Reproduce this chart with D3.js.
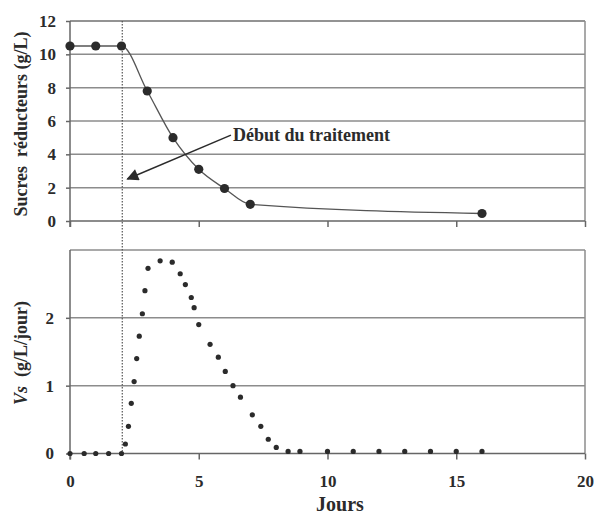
<!DOCTYPE html>
<html>
<head>
<meta charset="utf-8">
<script src="https://cdn.jsdelivr.net/npm/d3@7"></script>
<style>
  body { margin: 0; background: #fff; }
  text { font-family: "Liberation Serif", "Times New Roman", serif; font-weight: bold; fill: #2b2b2b; }
</style>
</head>
<body>
<script>
// sucres reducteurs (top panel)
var sugarDays = [0, 1, 2, 3, 4, 5, 6, 7, 16];
var sugarValues = [10.5, 10.5, 10.5, 7.8, 5.0, 3.1, 1.95, 1.0, 0.45];

// vitesse Vs (bottom panel)
var speedDays = [0, 0.55, 1, 1.5, 2, 2.15, 2.27, 2.38, 2.49, 2.59, 2.69, 2.81, 2.91, 3.03,
    3.5, 3.97, 4.28, 4.48, 4.71, 4.82, 5.0, 5.44, 5.76, 6.03, 6.33, 6.62, 7.08, 7.41, 7.7,
    8.01, 8.47, 8.93, 10, 11, 12, 13, 14, 15, 16];
var speedValues = [0, 0, 0, 0, 0, 0.14, 0.40, 0.74, 1.06, 1.40, 1.73, 2.06, 2.40, 2.73,
    2.84, 2.82, 2.65, 2.49, 2.30, 2.15, 1.90, 1.61, 1.42, 1.21, 1.00, 0.83, 0.57, 0.40, 0.21,
    0.09, 0.03, 0.03, 0.03, 0.03, 0.03, 0.03, 0.03, 0.03, 0.03];

var xTicks = [0, 5, 10, 15, 20];
var sugarTicks = [0, 2, 4, 6, 8, 10, 12];
var speedTicks = [0, 1, 2];
var treatmentDay = 2.03;
var annotationText = "Début du traitement";
// arrow: from (day, value) to (day, value) in the top panel
var arrowFrom = [6.25, 5.15];
var arrowTo = [2.23, 2.52];

var width = 597, height = 515;
var gridColor = "#8c8c8c", axisColor = "#666", markColor = "#2b2b2b";

var svg = d3.select("body").append("svg")
    .attr("width", width)
    .attr("height", height);

var x = d3.scaleLinear().domain([0, 20]).range([70, 585]);
var ySugar = d3.scaleLinear().domain([0, 12]).range([221, 21]);
var ySpeed = d3.scaleLinear().domain([0, 3]).range([453.5, 250]);

// draw one panel frame with grid and axes
function drawPanel (y, ticks, showLabels, labelPad) {
    var g = svg.append("g");
    // horizontal grid
    g.selectAll("line.grid")
        .data(ticks.concat(y.domain()[1]).filter(function (d) { return d > 0; }))
        .enter().append("line")
        .attr("x1", x(0)).attr("x2", x(20))
        .attr("y1", function (d) { return y(d); })
        .attr("y2", function (d) { return y(d); })
        .style("stroke", gridColor)
        .style("stroke-width", "1.5px");
    // right border
    g.append("line")
        .attr("x1", x(20)).attr("x2", x(20))
        .attr("y1", y.range()[1]).attr("y2", y.range()[0])
        .style("stroke", gridColor)
        .style("stroke-width", "1.5px");

    var yAxis = d3.axisLeft(y).tickValues(ticks).tickSize(4).tickPadding(labelPad)
        .tickFormat(d3.format("d"));
    var ga = g.append("g").attr("transform", "translate(" + x(0) + ",0)").call(yAxis);
    ga.select(".domain").remove();
    ga.append("line")
        .attr("x1", 0).attr("x2", 0)
        .attr("y1", y.range()[1]).attr("y2", y.range()[0] + 6)
        .style("stroke", axisColor).style("stroke-width", "1.5px");
    ga.selectAll(".tick line").style("stroke", axisColor).style("stroke-width", "1.5px");
    ga.selectAll("text").style("font-size", "17px").style("fill", "#2b2b2b");

    var xAxis = d3.axisBottom(x).tickValues(xTicks).tickSize(6).tickPadding(15);
    var gx = g.append("g").attr("transform", "translate(0," + y(0) + ")").call(xAxis);
    gx.select(".domain")
        .attr("d", "M" + x(0) + ",0H" + x(20))
        .style("stroke", axisColor).style("stroke-width", "1.5px");
    gx.selectAll(".tick line").style("stroke", axisColor).style("stroke-width", "1.5px");
    gx.selectAll("text").style("font-size", "17px").style("fill", "#2b2b2b");
    if (!showLabels) gx.selectAll("text").remove();
    return g;
}

drawPanel(ySugar, sugarTicks, false, 10);
drawPanel(ySpeed, speedTicks, true, 12);

// treatment start dotted line
svg.append("line")
    .attr("x1", x(treatmentDay)).attr("x2", x(treatmentDay))
    .attr("y1", ySugar(12)).attr("y2", ySpeed(0))
    .style("stroke", "#555")
    .style("stroke-width", "1.2px")
    .style("stroke-dasharray", "1.5,1.5");

// sugar curve
var sugarData = sugarDays.map(function (d, i) { return [d, sugarValues[i]]; });
svg.append("path")
    .datum(sugarData)
    .attr("d", d3.line()
        .x(function (d) { return x(d[0]); })
        .y(function (d) { return ySugar(d[1]); })
        .curve(d3.curveMonotoneX))
    .style("fill", "none")
    .style("stroke", "#555")
    .style("stroke-width", "1.3px");
svg.append("g").selectAll("circle")
    .data(sugarData)
    .enter().append("circle")
    .attr("cx", function (d) { return x(d[0]); })
    .attr("cy", function (d) { return ySugar(d[1]); })
    .attr("r", 4.6)
    .style("fill", markColor);

// speed dots
var speedData = speedDays.map(function (d, i) { return [d, speedValues[i]]; });
svg.append("g").selectAll("circle")
    .data(speedData)
    .enter().append("circle")
    .attr("cx", function (d) { return x(d[0]); })
    .attr("cy", function (d) { return ySpeed(d[1]); })
    .attr("r", 2.6)
    .style("fill", markColor);

// annotation arrow
svg.append("defs").append("marker")
    .attr("id", "head")
    .attr("viewBox", "0 0 10 10")
    .attr("refX", 9).attr("refY", 5)
    .attr("markerWidth", 14).attr("markerHeight", 12)
    .attr("markerUnits", "userSpaceOnUse")
    .attr("orient", "auto")
    .append("path")
    .attr("d", "M0,0L10,5L0,10Z")
    .style("fill", markColor);
svg.append("line")
    .attr("x1", x(arrowFrom[0])).attr("y1", ySugar(arrowFrom[1]))
    .attr("x2", x(arrowTo[0])).attr("y2", ySugar(arrowTo[1]))
    .attr("marker-end", "url(#head)")
    .style("stroke", markColor)
    .style("stroke-width", "1.5px");
svg.append("text")
    .attr("x", x(arrowFrom[0]) + 2)
    .attr("y", ySugar(arrowFrom[1]) + 6)
    .style("font-size", "18px")
    .text(annotationText);

// axis titles
svg.append("text")
    .attr("transform", "translate(27," + 124 + ") rotate(-90)")
    .attr("text-anchor", "middle")
    .style("font-size", "18px")
    .attr("xml:space", "preserve")
    .text("Sucres  réducteurs (g/L)");
var vs = svg.append("text")
    .attr("transform", "translate(27," + 353 + ") rotate(-90)")
    .attr("text-anchor", "middle")
    .style("font-size", "18px")
    .attr("xml:space", "preserve");
vs.append("tspan").style("font-style", "italic").text("Vs");
vs.append("tspan").text("  (g/L/jour)");

svg.append("text")
    .attr("x", 340).attr("y", 511)
    .attr("text-anchor", "middle")
    .style("font-size", "20px")
    .text("Jours");
</script>
</body>
</html>
